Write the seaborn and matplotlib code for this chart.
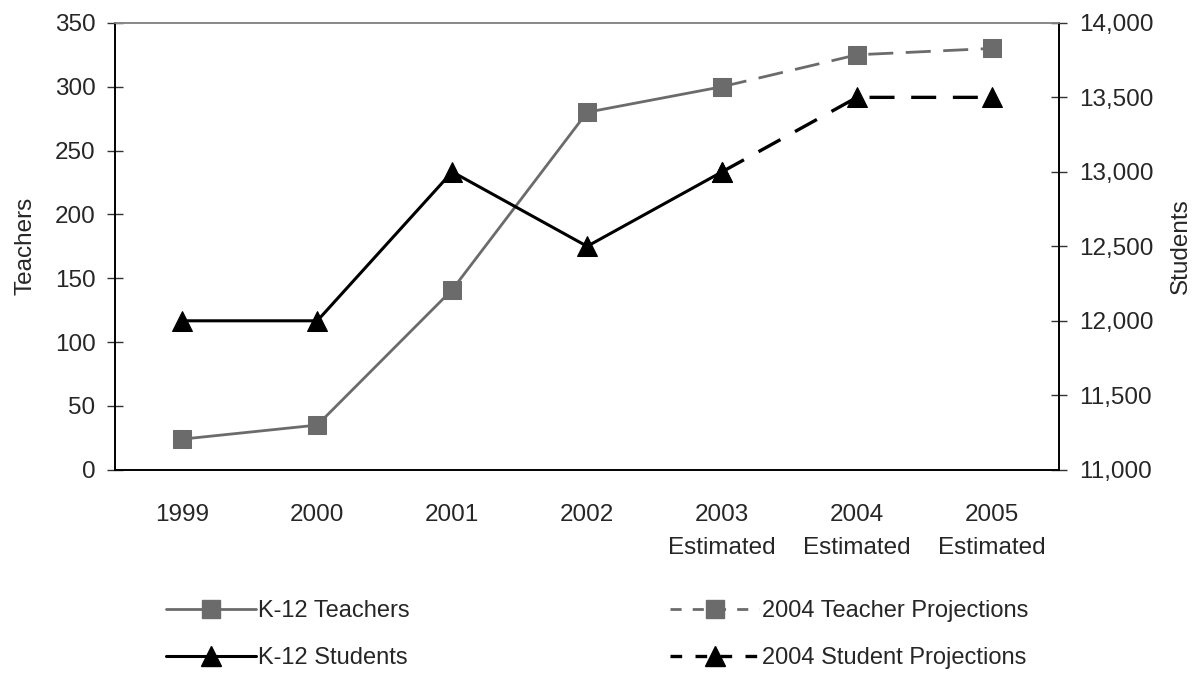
import numpy as np
import pandas as pd
import seaborn as sns
import matplotlib.pyplot as plt
from matplotlib.lines import Line2D
from matplotlib.ticker import FuncFormatter

sns.set_theme(style="white")
plt.rcParams['font.family'] = ['Liberation Sans', 'DejaVu Sans']

# data
years = ["1999", "2000", "2001", "2002", "2003\nEstimated", "2004\nEstimated", "2005\nEstimated"]
teachers = [24, 35, 141, 280, 300]          # 1999-2003
teacher_proj = [300, 325, 330]              # 2003-2005
students = [12000, 12000, 13000, 12500, 13000]  # 1999-2003
student_proj = [13000, 13500, 13500]        # 2003-2005

gray = "#6b6b6b"
fs = 17.5
leg_fs = 17

df_t = pd.DataFrame({"x": np.arange(len(teachers)), "y": teachers})
df_tp = pd.DataFrame({"x": np.arange(4, 4 + len(teacher_proj)), "y": teacher_proj})
df_s = pd.DataFrame({"x": np.arange(len(students)), "y": students})
df_sp = pd.DataFrame({"x": np.arange(4, 4 + len(student_proj)), "y": student_proj})

fig = plt.figure(figsize=(11.97, 6.73), dpi=100)
ax = fig.add_axes([0.096, 0.302, 0.789, 0.664])
ax2 = ax.twinx()

sns.lineplot(data=df_t, x="x", y="y", ax=ax, color=gray, lw=2, marker="s",
             markersize=13, markeredgecolor=gray, zorder=3)
sns.lineplot(data=df_tp, x="x", y="y", ax=ax, color=gray, lw=2, marker="s",
             markersize=13, markeredgecolor=gray, zorder=3)
ax.lines[-1].set_dashes((9, 4.5))

sns.lineplot(data=df_s, x="x", y="y", ax=ax2, color="black", lw=2.2, marker="^",
             markersize=14, markeredgecolor="black", zorder=3)
sns.lineplot(data=df_sp, x="x", y="y", ax=ax2, color="black", lw=2.4, marker="^",
             markersize=14, markeredgecolor="black", zorder=3)
ax2.lines[-1].set_dashes((7.5, 5))

ax.set_xlim(-0.5, 6.5)
ax.set_ylim(0, 350)
ax.set_yticks(np.arange(0, 351, 50))
ax2.set_ylim(11000, 14000)
ax2.set_yticks(np.arange(11000, 14001, 500))
ax2.yaxis.set_major_formatter(FuncFormatter(lambda v, p: f"{int(v):,}"))

# category ticks on boundaries, labels in the middle
ax.set_xticks(np.arange(-0.5, 7, 1))
ax.set_xticklabels([])
ax.set_xticks(np.arange(len(years)), minor=True)
ax.set_xticklabels(years, minor=True, fontsize=fs, linespacing=1.6)
ax.tick_params(axis="x", which="minor", length=0, pad=25)
ax.tick_params(axis="x", which="major", direction="inout", length=12, width=1, color="black")

ax.tick_params(axis="y", direction="inout", length=12, width=1, labelsize=fs, pad=8, color="#333333", left=True)
ax2.tick_params(axis="y", direction="inout", length=12, width=1, labelsize=fs, pad=8, color="#333333", right=True)

ax.set_xlabel("")
ax.set_ylabel("Teachers", fontsize=fs, labelpad=13)
ax2.set_xlabel("")
ax2.set_ylabel("Students", fontsize=fs, labelpad=12)

for a in (ax, ax2):
    for side in ("left", "right", "bottom"):
        a.spines[side].set_color("black")
        a.spines[side].set_linewidth(1.2)
    a.spines["top"].set_color("#888888")
    a.spines["top"].set_linewidth(1.2)

handles = [
    Line2D([], [], color=gray, lw=2, marker="s", markersize=13),
    Line2D([], [], color="black", lw=2.2, marker="^", markersize=14),
    Line2D([], [], color=gray, lw=2, marker="s", markersize=13, dashes=(4, 4)),
    Line2D([], [], color="black", lw=2.4, marker="^", markersize=14, dashes=(3.5, 4)),
]
labels = ["K-12 Teachers", "K-12 Students", "2004 Teacher Projections", "2004 Student Projections"]
fig.legend(handles, labels, ncol=2, loc="center left", bbox_to_anchor=(0.131, 0.057),
           borderaxespad=0, frameon=False, fontsize=leg_fs, handlelength=3.8,
           handletextpad=0.1, columnspacing=11.0, labelspacing=1.05)

fig.savefig("out.png", dpi=100)
